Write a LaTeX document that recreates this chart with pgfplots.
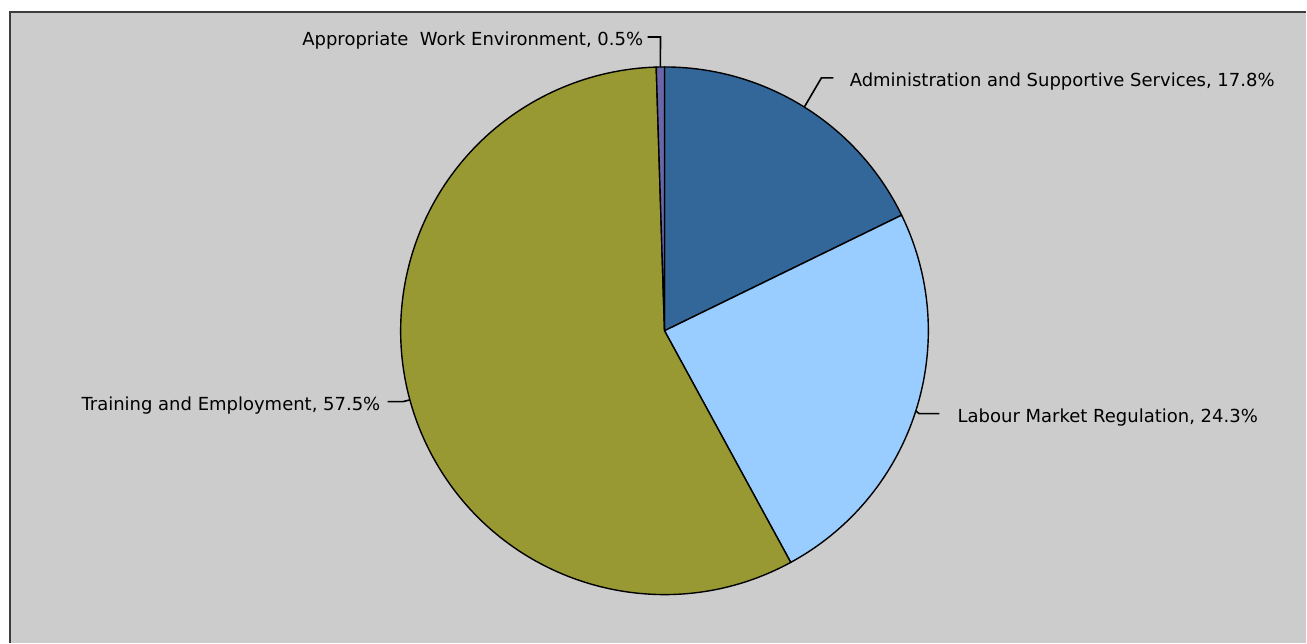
\documentclass[border=0pt]{standalone}
\usepackage{pgfplots}
\usepackage{pgfplotstable}
\usepackage{fontspec}
\setmainfont{DejaVu Sans}
\pgfplotsset{compat=1.18}

\definecolor{bggray}{HTML}{CCCCCC}
\definecolor{frame}{HTML}{3C3C3C}
\definecolor{admin}{HTML}{336699}
\definecolor{labour}{HTML}{99CCFF}
\definecolor{training}{HTML}{999933}
\definecolor{approp}{HTML}{6A66AA}

% shares in percent, clockwise from 12 o'clock
% ex,ey = elbow of the leader line, hx = its end, tx = where the text starts/ends
\pgfplotstableread[col sep=comma]{
value,colour,ex,ey,hx,tx
17.8,admin,822,565,834,850
24.3,labour,920,229,940,958
57.5,training,403,241,388,381
0.5,approp,661,606,648,644
}\piedata

\def\pielabel#1{%
  \ifcase#1 Administration and Supportive Services%
  \or Labour Market Regulation%
  \or Training and Employment%
  \or Appropriate\ \ Work Environment%
  \fi}

\def\pcx{665}
\def\pcy{312}
\def\prad{132pt}

\begin{document}
\begin{tikzpicture}
% work out the slices before the axis, keep the drawing commands with their numbers
\pgfplotstablegetrowsof{\piedata}
\pgfmathtruncatemacro\nrows{\pgfplotsretval-1}
\gdef\total{0}
\foreach \i in {0,...,\nrows}{
  \pgfplotstablegetelem{\i}{value}\of\piedata
  \pgfmathsetmacro\tmp{\total+\pgfplotsretval}\xdef\total{\tmp}
}
\gdef\cura{90}
\gdef\piecmds{}
\foreach \i in {0,...,\nrows}{
  \pgfplotstablegetelem{\i}{value}\of\piedata \let\val\pgfplotsretval
  \pgfplotstablegetelem{\i}{colour}\of\piedata \let\col\pgfplotsretval
  \pgfplotstablegetelem{\i}{ex}\of\piedata \let\ex\pgfplotsretval
  \pgfplotstablegetelem{\i}{ey}\of\piedata \let\ey\pgfplotsretval
  \pgfplotstablegetelem{\i}{hx}\of\piedata \let\hx\pgfplotsretval
  \pgfplotstablegetelem{\i}{tx}\of\piedata \let\tx\pgfplotsretval
  \pgfmathsetmacro\enda{\cura-\val/\total*360}
  \pgfmathsetmacro\mida{(\cura+\enda)/2}
  \pgfmathsetmacro\ty{\ey-8.5}
  \pgfmathtruncatemacro\isright{\tx>\hx ? 1 : 0}
  \ifnum\isright=1 \def\side{west}\else\def\side{east}\fi
  \xdef\piecmds{\unexpanded\expandafter{\piecmds}%
    \noexpand\filldraw[fill=\col, draw=black, line width=0.7pt, line join=round]
      (axis cs:\pcx,\pcy) -- ++(\cura:\prad) arc[start angle=\cura, end angle=\enda, radius=\prad] -- cycle;
    \noexpand\draw[black, line width=0.8pt]
      (axis cs:\pcx,\pcy) ++(\mida:\prad) -- (axis cs:\ex,\ey) -- (axis cs:\hx,\ey);
    \noexpand\node[anchor=base \side, inner sep=0pt, font=\noexpand\fontsize{9}{11}\noexpand\selectfont]
      at (axis cs:\tx,\ty) {\noexpand\pielabel{\i}, \val\noexpand\%};
  }%
  \xdef\cura{\enda}
}
\begin{axis}[
  scale only axis,
  width=653.5pt, height=321.5pt,
  xmin=0, xmax=1307, ymin=0, ymax=643,
  hide axis,
  clip=false,
]
\fill[white] (axis cs:0,0) rectangle (axis cs:1307,643);
\fill[bggray] (axis cs:10,0) rectangle (axis cs:1307,631);
\draw[frame, line width=1pt] (axis cs:10,0) -- (axis cs:10,631) -- (axis cs:1307,631);
\piecmds
\end{axis}
\end{tikzpicture}
\end{document}
